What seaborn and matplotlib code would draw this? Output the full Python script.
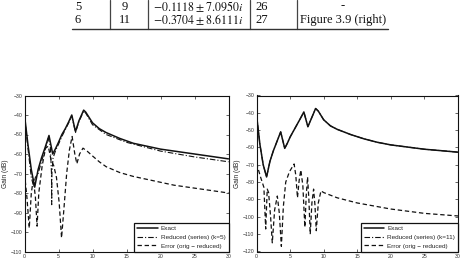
import numpy as np
import pandas as pd
import matplotlib
matplotlib.use("Agg")
import matplotlib.pyplot as plt
import seaborn as sns


# table rows (only the last two rows of the table are visible)
tab_col1 = ["5", "6"]
tab_col2 = ["9", "11"]
tab_poles = [r"$-0.1118 \pm 7.0950i$", r"$-0.3704 \pm 8.6111i$"]
tab_col4 = ["26", "27"]
tab_col5 = ["-", "Figure 3.9 (right)"]

# left plot (k=5)
exact_left_x = [0, 0.5, 1.0, 1.5, 2.0, 2.5, 3.0, 3.6, 4.15, 4.6, 5.0, 5.5, 6.0, 6.5, 6.95, 7.5, 8.0, 8.7, 9.0,
                10, 11, 12, 14, 16, 18, 20, 22, 25, 28, 30]
exact_left_y = [-40, -55, -68, -77, -68, -62, -57, -50.5, -60, -57, -54, -50, -47, -43.5, -40, -48.5, -43, -37.5, -38.5,
                -44, -47, -49, -52, -54.5, -56, -57.5, -58.5, -60, -61.5, -62.5]

red_left_x = [0, 0.5, 1.0, 1.3, 1.6, 2.0, 2.5, 3.0, 3.5, 3.8, 3.97, 4.0, 4.03, 4.2, 4.6, 5.0, 5.5, 6.0, 6.5, 6.95,
              7.5, 8.0, 8.7, 9.0, 10, 12, 15, 20, 25, 30]
red_left_y = [-40.5, -57, -72, -76, -72, -70, -64, -58, -52, -56, -70, -86, -70, -62, -58, -55, -51, -47.5, -44, -40.5,
              -49, -43.5, -38, -39, -45, -50, -54, -58.5, -61.5, -64]

err_left_x = [0, 0.35, 0.7, 1.0, 1.3, 1.6, 1.85, 2.1, 2.6, 3.1, 3.5, 3.9, 4.3, 4.7, 5.1, 5.45, 5.8, 6.2, 6.6, 7.0,
              7.4, 7.7, 8.1, 8.6, 9.2, 10, 11, 12, 14, 16, 18, 20, 22, 25, 28, 30]
err_left_y = [-70, -82, -98, -80, -73, -82, -97, -80, -66, -57, -56, -63, -66, -72, -85, -103, -88, -70, -58, -51,
              -60, -65, -60, -57, -58.5, -61, -64, -66.5, -69.5, -71.5, -73, -74.5, -76, -77.5, -79, -80]

# right plot (k=11)
exact_right_x = [0, 0.5, 1.0, 1.5, 2.0, 2.5, 3.0, 3.6, 4.2, 4.6, 5.0, 5.5, 6.0, 6.5, 7.05, 7.65, 8.2, 8.8, 9.2,
                 10, 11, 12, 14, 16, 18, 20, 22, 25, 28, 30]
exact_right_y = [-41, -58, -70, -77, -68, -62, -57, -51, -60.5, -57.5, -54, -50.5, -47, -43.5, -39.5, -48, -43, -37.5, -39,
                 -44, -47.5, -49.5, -52.5, -55, -57, -58.5, -59.5, -61, -62, -62.7]

# the k=11 reduced model lies on top of the exact curve
red_right_x = exact_right_x
red_right_y = exact_right_y

err_right_x = [0, 0.6, 1.1, 1.37, 1.6, 1.8, 2.1, 2.35, 2.7, 3.1, 3.4, 3.7, 4.0, 4.35, 4.9, 5.6, 5.85, 6.1, 6.35, 6.6,
               6.9, 7.2, 7.4, 7.6, 7.8, 8.0, 8.25, 8.5, 8.7, 8.9, 9.2, 9.6, 10, 12, 15, 20, 25, 30]
err_right_y = [-69, -77, -83, -107, -84, -86, -100, -115, -96, -88, -98, -117, -94, -80, -74, -69.5, -76, -89, -79, -73,
               -82, -106, -88, -77, -90, -110, -92, -84, -93, -108, -92, -85, -86, -89, -92, -95.5, -98, -99.5]

labels_left = ["Exact", "Reduced (series) (k=5)", "Error (orig \u2212 reduced)"]
labels_right = ["Exact", "Reduced (series) (k=11)", "Error (orig \u2212 reduced)"]
xticks = [0, 5, 10, 15, 20, 25, 30]


sns.set_theme(style="ticks")
plt.rcParams['font.family'] = ['Liberation Sans', 'DejaVu Sans']
plt.rcParams['mathtext.fontset'] = 'stix'

fig = plt.figure(figsize=(4.66, 2.58), dpi=100)
W, H = 466.0, 258.0

# --- table fragment ---
row_y = [6.5, 20]
col_x = [78, 125, 198.5, 262, 343]
for r in range(2):
    cells = [tab_col1[r], tab_col2[r], tab_poles[r], tab_col4[r], tab_col5[r]]
    for c, txt in enumerate(cells):
        fs = 8.6 if c == 2 else 9.0
        fig.text(col_x[c] / W, 1 - row_y[r] / H, txt, ha='center', va='center',
                 fontsize=fs, family='Liberation Serif', color='#111111')
for vx in [109.5, 148, 250, 297]:
    fig.add_artist(plt.Line2D([vx / W, vx / W], [1.0, 1 - 28.5 / H], color='#444444', lw=0.9))
fig.add_artist(plt.Line2D([72 / W, 388 / W], [1 - 28.5 / H, 1 - 28.5 / H], color='#333333', lw=1.0))

# --- plots ---
ax_bottom = 1 - 251.5 / H
ax_height = (251.5 - 95.5) / H
ax1 = fig.add_axes([24.5 / W, ax_bottom, (228.5 - 24.5) / W, ax_height])
ax2 = fig.add_axes([256.5 / W, ax_bottom, (458 - 256.5) / W, ax_height])


def draw(ax, ex_x, ex_y, rd_x, rd_y, er_x, er_y, labels, ymin, yticks):
    sns.lineplot(x=ex_x, y=ex_y, ax=ax, color='#111111', lw=1.1, label=labels[0], sort=False)
    sns.lineplot(x=rd_x, y=rd_y, ax=ax, color='#111111', lw=0.8, linestyle=(0, (5, 1.8, 1, 1.8)),
                 label=labels[1], sort=False)
    sns.lineplot(x=er_x, y=er_y, ax=ax, color='#111111', lw=0.9, linestyle=(0, (3.5, 2.2)),
                 label=labels[2], sort=False)
    ax.set_xlim(0, 30)
    ax.set_ylim(ymin, -30)
    ax.set_xticks(xticks)
    ax.set_yticks(yticks)
    ax.tick_params(direction='in', length=2, width=0.5, labelsize=3.7, pad=1.5,
                   top=True, right=True, labelcolor='#333333')
    ax.set_ylabel("Gain (dB)", fontsize=4.8, labelpad=1, color='#222222')
    for s in ax.spines.values():
        s.set_linewidth(0.8)
        s.set_color('#111111')
    leg = ax.legend(loc='lower right', borderaxespad=0, fontsize=4.6, frameon=True, fancybox=False,
                    handlelength=3.2, labelspacing=0.5, borderpad=0.45, handletextpad=0.5)
    leg.get_frame().set_edgecolor('#111111')
    leg.get_frame().set_linewidth(0.9)
    leg.get_frame().set_alpha(1)


draw(ax1, exact_left_x, exact_left_y, red_left_x, red_left_y, err_left_x, err_left_y,
     labels_left, -110, list(range(-110, -29, 10)))
draw(ax2, exact_right_x, exact_right_y, red_right_x, red_right_y, err_right_x, err_right_y,
     labels_right, -120, list(range(-120, -29, 10)))

fig.savefig("out.png", dpi=100)
